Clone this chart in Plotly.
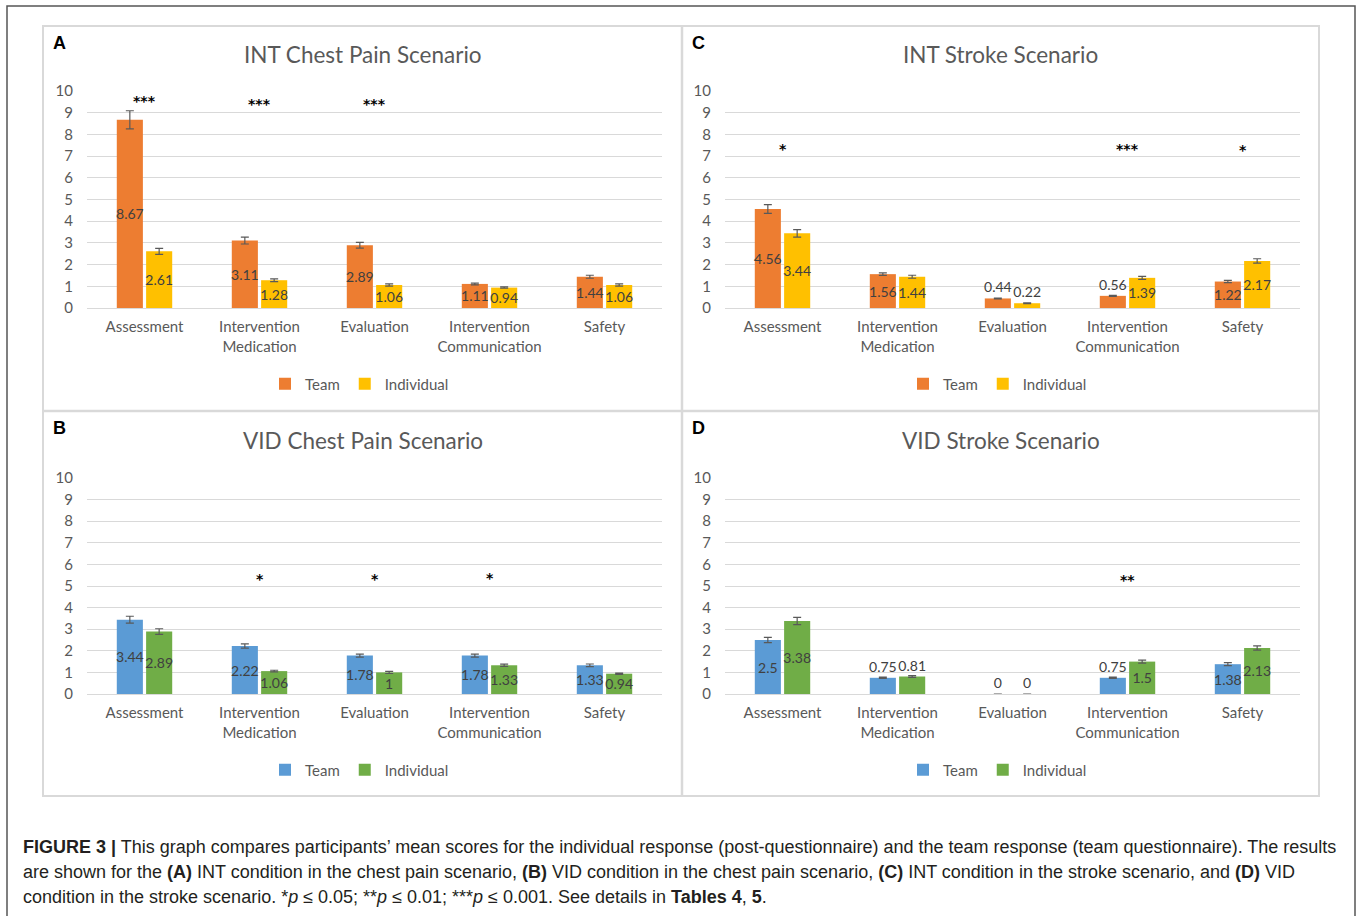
import plotly.graph_objects as go

W, H = 1357, 916

categories = ["Assessment", "Intervention<br>Medication", "Evaluation",
              "Intervention<br>Communication", "Safety"]
series_names = ["Team", "Individual"]

# Panel A: INT Chest Pain
a_team = [8.67, 3.11, 2.89, 1.11, 1.44]
a_team_err = [0.42, 0.16, 0.13, 0.04, 0.07]
a_ind = [2.61, 1.28, 1.06, 0.94, 1.06]
a_ind_err = [0.14, 0.06, 0.05, 0.03, 0.05]
a_stars = ["***", "***", "***", "", ""]
a_star_y = [9.68, 9.55, 9.55, 0, 0]

# Panel C: INT Stroke
c_team = [4.56, 1.56, 0.44, 0.56, 1.22]
c_team_err = [0.20, 0.06, 0.02, 0.02, 0.05]
c_ind = [3.44, 1.44, 0.22, 1.39, 2.17]
c_ind_err = [0.17, 0.07, 0.02, 0.07, 0.10]
c_stars = ["*", "", "", "***", "*"]
c_star_y = [7.48, 0, 0, 7.5, 7.43]

# Panel B: VID Chest Pain
b_team = [3.44, 2.22, 1.78, 1.78, 1.33]
b_team_err = [0.16, 0.10, 0.07, 0.07, 0.06]
b_ind = [2.89, 1.06, 1.0, 1.33, 0.94]
b_ind_err = [0.13, 0.04, 0.05, 0.05, 0.03]
b_stars = ["", "*", "*", "*", ""]
b_star_y = [0, 5.48, 5.48, 5.51, 0]

# Panel D: VID Stroke
d_team = [2.5, 0.75, 0, 0.75, 1.38]
d_team_err = [0.12, 0.03, None, 0.03, 0.07]
d_ind = [3.38, 0.81, 0, 1.5, 2.13]
d_ind_err = [0.17, 0.04, None, 0.07, 0.10]
d_stars = ["", "", "", "**", ""]
d_star_y = [0, 0, 0, 5.43, 0]

y_ticks = list(range(0, 11))

ORANGE, YELLOW, BLUE, GREEN = "#ED7D31", "#FFC000", "#5B9BD5", "#70AD47"
GRAY = "#595959"
GRID = "#D9D9D9"
FONT = "Lato"

def px_x(p):
    return p / W

def px_y(p):
    return 1 - p / H

panels = [
    ("A", "INT Chest Pain Scenario", a_team, a_team_err, a_ind, a_ind_err, a_stars, a_star_y,
     (ORANGE, YELLOW), "", (87, 662, 91, 308), (43, 682, 26, 411)),
    ("C", "INT Stroke Scenario", c_team, c_team_err, c_ind, c_ind_err, c_stars, c_star_y,
     (ORANGE, YELLOW), "2", (725, 1300, 91, 308), (682, 1319, 26, 411)),
    ("B", "VID Chest Pain Scenario", b_team, b_team_err, b_ind, b_ind_err, b_stars, b_star_y,
     (BLUE, GREEN), "3", (87, 662, 478, 694), (43, 682, 411, 796)),
    ("D", "VID Stroke Scenario", d_team, d_team_err, d_ind, d_ind_err, d_stars, d_star_y,
     (BLUE, GREEN), "4", (725, 1300, 478, 694), (682, 1319, 411, 796)),
]

fig = go.Figure()
annotations = []
shapes = []
layout_extra = {}

for i, (letter, title, team, team_err, ind, ind_err, stars, star_y, cols, sfx, box, pbox) in enumerate(panels):
    xa = "x" + sfx
    ya = "y" + sfx
    leg = "legend" if i == 0 else f"legend{i + 1}"
    for name, vals, errs, col in ((series_names[0], team, team_err, cols[0]),
                                  (series_names[1], ind, ind_err, cols[1])):
        fig.add_trace(go.Bar(
            x=categories, y=vals, name=name, xaxis=xa, yaxis=ya, legend=leg,
            marker=dict(color=col, line=dict(width=0)),
            error_y=dict(type="data", array=errs, visible=True, color=GRAY,
                         thickness=1.2, width=4),
            text=[f"{v:g}" for v in vals],
            textposition=["inside" if v >= 0.9 else "outside" for v in vals],
            insidetextanchor="middle",
            constraintext="none",
            textangle=0,
            textfont=dict(family=FONT, size=14, color="#404040"),
            cliponaxis=False,
            hoverinfo="skip",
        ))
    x0, x1, y0, y1 = box
    layout_extra["xaxis" + sfx] = dict(
        domain=[px_x(x0), px_x(x1)], anchor=ya, type="category",
        range=[-0.5, 4.5], showgrid=False, showline=False, zeroline=False,
        ticks="", ticklabelstandoff=8, automargin=False,
        tickfont=dict(family=FONT, size=15, color=GRAY),
    )
    layout_extra["yaxis" + sfx] = dict(
        domain=[px_y(y1), px_y(y0)], anchor=xa, range=[0, 10],
        tickvals=y_ticks, showgrid=True, gridcolor=GRID, gridwidth=1,
        zeroline=True, zerolinecolor=GRID, zerolinewidth=1, showline=False,
        ticks="", ticklabelstandoff=13, automargin=False,
        tickfont=dict(family=FONT, size=15, color=GRAY),
    )
    cx = (pbox[0] + pbox[1]) / 2
    legy = 384 if y0 < 400 else 770
    layout_extra[leg] = dict(
        orientation="h", x=px_x(cx - 3), xanchor="center", y=px_y(legy), yanchor="middle",
        font=dict(family=FONT, size=15, color=GRAY), bgcolor="rgba(0,0,0,0)",
        itemwidth=30, traceorder="normal", tracegroupgap=0,
    )
    annotations.append(dict(
        text=title, xref="paper", yref="paper", x=px_x(cx), y=px_y(pbox[2] + 29),
        xanchor="center", yanchor="middle", showarrow=False,
        font=dict(family=FONT, size=22.5, color=GRAY),
    ))
    annotations.append(dict(
        text=f"<b>{letter}</b>", xref="paper", yref="paper", x=px_x(pbox[0] + 8),
        y=px_y(pbox[2] + 17), xanchor="left", yanchor="middle", showarrow=False,
        font=dict(family="Liberation Sans", size=18, color="#000000"),
    ))
    for cat, s, sy in zip(categories, stars, star_y):
        if s:
            annotations.append(dict(
                text=f"<b>{s}</b>", xref=xa, yref=ya, x=cat, y=sy - 0.15, xanchor="center",
                yanchor="middle", showarrow=False,
                font=dict(family="DejaVu Sans", size=14, color="#000000"),
            ))

shapes.append(dict(type="rect", xref="paper", yref="paper", x0=px_x(43), x1=px_x(1319),
                   y0=px_y(796), y1=px_y(26), line=dict(color=GRID, width=2)))
shapes.append(dict(type="line", xref="paper", yref="paper", x0=px_x(682), x1=px_x(682),
                   y0=px_y(796), y1=px_y(26), line=dict(color=GRID, width=2.5)))
shapes.append(dict(type="line", xref="paper", yref="paper", x0=px_x(43), x1=px_x(1319),
                   y0=px_y(411), y1=px_y(411), line=dict(color=GRID, width=2.5)))
shapes.append(dict(type="rect", xref="paper", yref="paper", x0=px_x(7), x1=px_x(1355),
                   y0=px_y(925), y1=px_y(6), line=dict(color="#555555", width=1.5)))

caption_lines = [
    "<b>FIGURE 3 |</b> This graph compares participants’ mean scores for the individual response (post-questionnaire) and the team response (team questionnaire). The results",
    "are shown for the <b>(A)</b> INT condition in the chest pain scenario, <b>(B)</b> VID condition in the chest pain scenario, <b>(C)</b> INT condition in the stroke scenario, and <b>(D)</b> VID",
    "condition in the stroke scenario. *<i>p</i> ≤ 0.05; **<i>p</i> ≤ 0.01; ***<i>p</i> ≤ 0.001. See details in <b>Tables 4</b>, <b>5</b>.",
]
for k, line in enumerate(caption_lines):
    annotations.append(dict(
        text=line, xref="paper", yref="paper", x=px_x(21), y=px_y(847 + 25 * k),
        xanchor="left", yanchor="middle", showarrow=False, align="left",
        font=dict(family="Liberation Sans", size=18, color="#231F20"),
    ))

fig.update_layout(
    width=W, height=H, autosize=False,
    margin=dict(l=0, r=0, t=0, b=0, pad=0, autoexpand=False),
    paper_bgcolor="white", plot_bgcolor="white",
    barmode="group", bargap=0.49, bargroupgap=0.11,
    annotations=annotations, shapes=shapes, showlegend=True,
    **layout_extra,
)

post = ("document.documentElement.style.margin='0';"
        "document.body.style.margin='0';document.body.style.overflow='hidden';"
        "var d=document.getElementById('{plot_id}');"
        "d.style.position='fixed';d.style.left='0px';d.style.top='0px';")

fig.write_html("out.html", config={"displayModeBar": False}, post_script=post)
